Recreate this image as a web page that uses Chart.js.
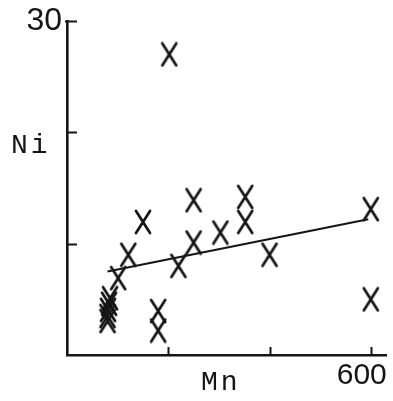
<!DOCTYPE html>
<html>
<head>
<meta charset="utf-8">
<script src="https://cdn.jsdelivr.net/npm/chart.js@4"></script>
<style>
  html, body { margin: 0; padding: 0; background: #ffffff; }
  #wrap { width: 393px; height: 401px; }
</style>
</head>
<body>
<div id="wrap"><canvas id="chart" width="393" height="401"></canvas></div>
<script>
// Mn (x) against Ni (y) for each sample
const mnValues = [202, 150, 121, 101, 85, 83, 81, 80, 80, 180, 180, 220, 250, 250, 303, 352, 352, 400, 600, 600];
const niValues = [27.0, 11.95, 9.0, 6.9, 5.1, 4.6, 4.05, 3.5, 3.05, 3.95, 2.2, 8.0, 13.9, 10.1, 11.0, 14.2, 11.95, 9.0, 13.1, 5.0];

// fitted trend line end points
const fitMn = [80, 595];
const fitNi = [7.5, 12.2];

// axis tick positions and the labels printed at them
const xTickValues = [0, 200, 400, 600];
const yTickValues = [0, 10, 20, 30];
const xTickLabels = { 600: '600' };
const yTickLabels = { 30: '30' };

const INK = '#151515';

// typewriter-style "X" marker
function makeMarker() {
  const c = document.createElement('canvas');
  c.width = 20; c.height = 26;
  const g = c.getContext('2d');
  g.strokeStyle = INK;
  g.lineWidth = 2.7;
  g.lineCap = 'round';
  g.beginPath();
  g.moveTo(3, 2); g.lineTo(17, 24);
  g.moveTo(17, 2); g.lineTo(3, 24);
  g.stroke();
  return c;
}
const marker = makeMarker();

const points = mnValues.map((m, i) => ({ x: m, y: niValues[i] }));
const fitLine = fitMn.map((m, i) => ({ x: m, y: fitNi[i] }));

// short tick marks pointing into the plot area
const innerTicks = {
  id: 'innerTicks',
  afterDatasetsDraw(chart) {
    const { ctx, scales: { x, y } } = chart;
    ctx.save();
    ctx.strokeStyle = INK;
    ctx.lineWidth = 2;
    yTickValues.filter(v => v > 0).forEach(v => {
      const py = Math.round(y.getPixelForValue(v)) + 0.5;
      ctx.beginPath();
      ctx.moveTo(x.left - (v === 30 ? 2 : 0), py);
      ctx.lineTo(x.left + 10, py);
      ctx.stroke();
    });
    xTickValues.filter(v => v > 0).forEach(v => {
      const px = Math.round(x.getPixelForValue(v)) + 0.5;
      ctx.beginPath();
      ctx.moveTo(px, y.bottom);
      ctx.lineTo(px, y.bottom - 8);
      ctx.stroke();
    });
    ctx.restore();
  }
};

// element symbols naming the two axes
const axisNames = {
  id: 'axisNames',
  afterDraw(chart) {
    const { ctx } = chart;
    ctx.save();
    ctx.fillStyle = INK;
    ctx.font = '28px "Liberation Mono"';
    ctx.textBaseline = 'alphabetic';
    ctx.letterSpacing = '3px';
    ctx.fillText('Ni', 11, 153);
    ctx.fillText('Mn', 201, 390);
    ctx.restore();
  }
};

new Chart(document.getElementById('chart'), {
  data: {
    datasets: [
      {
        type: 'line',
        data: fitLine,
        borderColor: INK,
        borderWidth: 2,
        pointRadius: 0,
        fill: false,
        tension: 0
      },
      {
        type: 'scatter',
        data: points,
        pointStyle: marker,
        pointRadius: 10,
        borderColor: INK,
        backgroundColor: INK
      }
    ]
  },
  options: {
    responsive: false,
    animation: false,
    layout: { autoPadding: false, padding: { top: 21, right: 7, left: 0, bottom: 0 } },
    plugins: { legend: { display: false }, tooltip: { enabled: false } },
    scales: {
      x: {
        type: 'linear',
        position: 'bottom',
        min: 0,
        max: 630,
        afterBuildTicks: s => { s.ticks = xTickValues.map(v => ({ value: v })); },
        afterFit: s => { s.height = 46; s.paddingLeft = 0; s.paddingRight = 0; },
        grid: { display: false, drawTicks: false },
        border: { display: true, color: INK, width: 2.6 },
        ticks: {
          autoSkip: false,
          maxRotation: 0,
          align: 'end',
          padding: 3,
          labelOffset: 16,
          color: INK,
          font: { family: '"Liberation Sans"', size: 30 },
          callback: v => xTickLabels[v] || ''
        }
      },
      y: {
        type: 'linear',
        min: 0,
        max: 30,
        afterBuildTicks: s => { s.ticks = yTickValues.map(v => ({ value: v })); },
        afterFit: s => { s.width = 67; s.paddingTop = 0; s.paddingBottom = 0; },
        grid: { display: false, drawTicks: false },
        border: { display: true, color: INK, width: 2.6 },
        ticks: {
          autoSkip: false,
          padding: 5,
          color: INK,
          font: { family: '"Liberation Sans"', size: 32 },
          callback: v => yTickLabels[v] || ''
        }
      }
    }
  },
  plugins: [innerTicks, axisNames]
});
</script>
</body>
</html>
